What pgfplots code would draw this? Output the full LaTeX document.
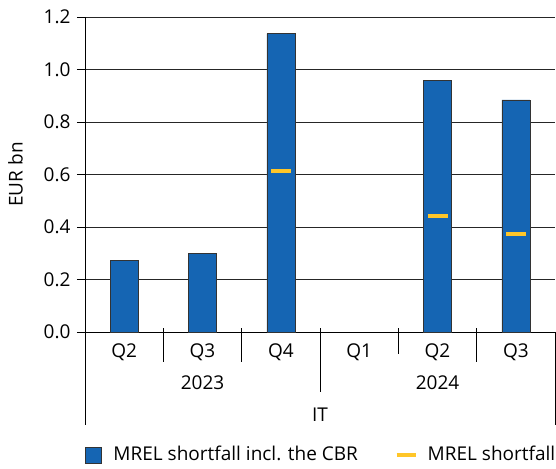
\documentclass[border=0pt]{standalone}
\usepackage{pgfplots}
\pgfplotsset{compat=1.18}
\usepackage{fontspec}
\setmainfont{Open Sans}
\definecolor{barblue}{HTML}{1565B3}
\definecolor{mrelyellow}{HTML}{FFC629}
\begin{document}
\fontsize{19}{22}\selectfont
\begin{tikzpicture}
\path[use as bounding box] (-85pt,-136pt) rectangle (471pt,332pt);
\begin{axis}[
    at={(0,0)}, anchor=south west,
    width=470pt, height=315pt, scale only axis,
    xmin=-0.5, xmax=5.5, ymin=0, ymax=1.2,
    axis x line=bottom, axis y line=left,
    axis line style={-, line width=0.8pt},
    xtick=\empty,
    ytick={0,0.2,0.4,0.6,0.8,1.0,1.2},
    yticklabel={\pgfmathprintnumber[fixed,fixed zerofill,precision=1,assume math mode=true]{\tick}},
    tick align=outside, major tick length=8pt,
    tick style={line width=0.8pt, black},
    ymajorgrids, grid style={line width=0.8pt, black!85},
    ylabel={EUR bn},
    ylabel style={at={(axis description cs:-0.148,0.5)}, anchor=center},
    clip=false,
    font=\fontsize{19}{22}\selectfont,
    legend columns=2,
    legend style={at={(axis description cs:0,-0.3905)}, anchor=west, xshift=-3pt, draw=none,
        font=\fontsize{19}{22}\selectfont,
        /tikz/every even column/.append style={column sep=35pt}},
]
\addplot[ybar, bar width=0.357, fill=barblue, draw=black!80, line width=0.6pt,
    legend image code/.code={\draw[fill=barblue,draw=black!80,line width=0.6pt] (0pt,-8pt) rectangle (16pt,8pt); \path[draw=none,fill=none] (0pt,0pt) -- (26pt,0pt);}]
    coordinates {(0,0.274) (1,0.299) (2,1.137) (4,0.959) (5,0.884)};
\addlegendentry{MREL shortfall incl. the CBR}
\addplot[only marks, mark=-, mark size=10pt, mrelyellow, line width=3.5pt,
    legend image code/.code={\draw[mrelyellow,line width=3.5pt] (0pt,0pt) -- (19pt,0pt); \path[draw=none] (0pt,0pt) -- (29pt,0pt);}]
    coordinates {(2,0.614) (4,0.441) (5,0.373)};
\addlegendentry{MREL shortfall}
% category separators
\draw[line width=0.8pt] (axis cs:0.5,0) ++(0pt,4pt) -- ++(0pt,-34pt);
\draw[line width=0.8pt] (axis cs:1.5,0) ++(0pt,4pt) -- ++(0pt,-34pt);
\draw[line width=0.8pt] (axis cs:2.5,0) ++(0pt,4pt) -- ++(0pt,-64pt);
\draw[line width=0.8pt] (axis cs:3.5,0) ++(0pt,4pt) -- ++(0pt,-26pt);
\draw[line width=0.8pt] (axis cs:4.5,0) ++(0pt,4pt) -- ++(0pt,-34pt);
\draw[line width=0.8pt] (axis cs:-0.5,0) -- ++(0pt,-93pt);
\draw[line width=0.8pt] (axis cs:5.5,0) -- ++(0pt,-93pt);
% category labels
\node[yshift=-20pt] at (axis cs:0,0) {Q2};
\node[yshift=-20pt] at (axis cs:1,0) {Q3};
\node[yshift=-20pt] at (axis cs:2,0) {Q4};
\node[yshift=-20pt] at (axis cs:3,0) {Q1};
\node[yshift=-20pt] at (axis cs:4,0) {Q2};
\node[yshift=-20pt] at (axis cs:5,0) {Q3};
\node[yshift=-51pt] at (axis cs:1,0) {2023};
\node[yshift=-51pt] at (axis cs:4,0) {2024};
\node[yshift=-83pt] at (axis cs:2.5,0) {IT};
\end{axis}
\end{tikzpicture}
\end{document}
